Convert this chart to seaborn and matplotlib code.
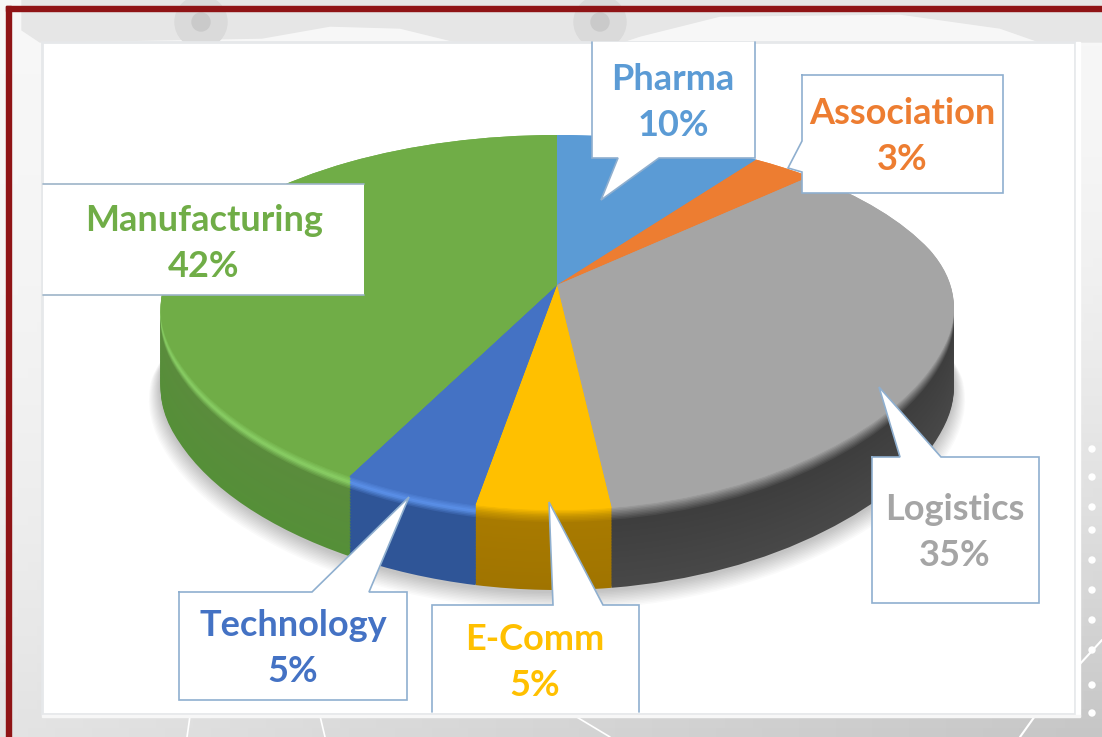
import numpy as np
import seaborn as sns
import matplotlib
matplotlib.use('Agg')
import matplotlib.pyplot as plt
from matplotlib.colors import LinearSegmentedColormap
from matplotlib.patches import Polygon, Rectangle, Circle
from matplotlib.transforms import Transform

sectors = ['Pharma', 'Association', 'Logistics', 'E-Comm', 'Technology', 'Manufacturing']
shares = [10, 3, 35, 5, 5, 42]
face_colors = ['#5B9BD5', '#ED7D31', '#A5A5A5', '#FFC000', '#4472C4', '#70AD47']
rim_colors = ['#6FB0EA', '#F08C45', '#6E6E6E', '#C79500', '#5C92EA', '#8AD066']
side_top = ['#3F6F9E', '#B05A20', '#3E3E3E', '#A87A00', '#2F5597', '#5A8C3C']
side_low = ['#3F6F9E', '#B05A20', '#484848', '#A07400', '#2F5597', '#558F38']

# label text centres in pixels
label_x = [673, 902, 955, 535, 293, 204]
label_y = [79, 113, 510, 640, 625, 220]
line_gap = 46

# callout outlines in pixels, the pointer is part of the shape
callouts = [
    [(592, 42), (755, 42), (755, 158), (659, 158), (601, 200), (618, 158), (592, 158)],
    [(802, 75), (1003, 75), (1003, 193), (802, 193), (802, 172), (788, 168), (802, 141)],
    [(872, 457), (900, 457), (879, 387), (941, 457), (1039, 457), (1039, 603), (872, 603)],
    [(432, 605), (553, 605), (549, 502), (603, 605), (639, 605), (639, 712), (432, 712)],
    [(179, 592), (312, 592), (409, 497), (369, 592), (407, 592), (407, 700), (179, 700)],
    [(43, 184), (364, 184), (364, 295), (43, 295)],
]

CX, CY = 557, 285
DEPTH = 80


class Perspective(Transform):
    """Tilts the flat unit pie into the reference's view, pixels out."""
    input_dims = 2
    output_dims = 2
    is_separable = False
    has_inverse = False

    def __init__(self, drop=0, grow=1.0):
        super().__init__()
        self.drop = drop
        self.grow = grow

    def transform_non_affine(self, values):
        values = np.asarray(values)
        y = values[:, 1]
        # the front of the disc widens less than the back narrows
        kx = 0.15 + 0.055 * np.tanh(4 * y)
        out = np.empty_like(values, dtype=float)
        out[:, 0] = CX + 395 * self.grow * values[:, 0] / (1 + kx * y)
        out[:, 1] = CY + self.drop - 180 * self.grow * y / (1 + 0.2 * y)
        return out


def draw_pie(ax, vals, colors, drop=0, grow=1.0, alpha=None):
    wedges, _ = ax.pie(vals, colors=colors, startangle=90, counterclock=False,
                       wedgeprops={'linewidth': 0, 'alpha': alpha})
    tr = Perspective(drop, grow) + ax.transData
    for w in wedges:
        w.set_transform(tr)


sns.set_theme(style='white')
fig = plt.figure(figsize=(11.02, 7.37), dpi=100, facecolor='#F2F2F2')
ax = fig.add_axes([0, 0, 1, 1])

# background behind the chart, a soft grey wash with a faint truck on top
gy, gx = np.mgrid[0:1:80j, 0:1:120j]
wash = gy ** 2 * (0.4 + 0.6 * gx)
wash_cmap = LinearSegmentedColormap.from_list('wash', ['#F7F7F7', '#C6C6C6'])
ax.imshow(wash, extent=(0, 1102, 737, 0), cmap=wash_cmap, vmin=0, vmax=1,
          aspect='auto', zorder=0)
ax.add_patch(Polygon([(22, 0), (1102, 0), (1102, 42), (1040, 42), (1000, 28), (900, 14),
                      (720, 16), (640, 36), (622, 42), (457, 42), (400, 28), (330, 26),
                      (262, 38), (40, 42), (22, 30)],
                     closed=True, color='#E6E6E6', zorder=0))
for x in [201, 600]:
    ax.add_patch(Circle((x, 22), 26, color='#DADADA', zorder=0))
    ax.add_patch(Circle((x, 22), 9, color='#CACACA', zorder=0))
for y in [449, 477, 507, 530, 560, 590, 620, 650, 685, 713]:
    ax.add_patch(Circle((1092, y), 3, color='white', zorder=0))
ax.plot([1079, 1102], [665, 640], color='white', lw=1.5, zorder=0)
ax.plot([1020, 1035], [737, 716], color='white', lw=1.5, zorder=0)
ax.plot([575, 610], [716, 737], color='white', lw=1.2, zorder=0)
ax.plot([190, 187], [716, 737], color='white', lw=1.2, zorder=0)
ax.plot([320, 325], [716, 737], color='white', lw=1.2, zorder=0)

# red frame and the white panel
ax.add_patch(Rectangle((6, 6), 1096, 4.5, color='#8F1416', zorder=1))
ax.add_patch(Rectangle((6, 6), 4.5, 731, color='#8F1416', zorder=1))
ax.add_patch(Rectangle((42, 42), 1033, 672, facecolor='white', edgecolor='#E6E8EA',
                       lw=2, zorder=1))
ax.add_patch(Rectangle((1076, 42), 4, 674, color='white', zorder=1))
ax.add_patch(Rectangle((42, 715), 1038, 2, color='#F7F7F7', zorder=1))

# soft shadow under the disc
for i in range(12):
    draw_pie(ax, [1], ['black'], drop=DEPTH + 14 - i, grow=1.0 + (11 - i) * 0.0024, alpha=0.02)

# side wall built up from the bottom, lighter rim just under the top face
n_side, n_rim = 44, 10
side_pals = [sns.blend_palette([a, b], n_colors=n_side) for a, b in zip(side_low, side_top)]
rim_pals = [sns.blend_palette([b, r, f], n_colors=n_rim)
            for b, r, f in zip(side_top, rim_colors, face_colors)]
drops = np.linspace(DEPTH, 0, n_side + n_rim)
for k, d in enumerate(drops):
    if k < n_side:
        layer = [p[k] for p in side_pals]
    else:
        layer = [p[k - n_side] for p in rim_pals]
    draw_pie(ax, shares, layer, drop=d)

# top face
draw_pie(ax, shares, face_colors)

ax.set_aspect('auto')
ax.set_xlim(0, 1102)
ax.set_ylim(737, 0)
ax.axis('off')

# callouts
for pts, name in zip(callouts, sectors):
    ax.add_patch(Polygon(pts, closed=True, facecolor='white', edgecolor='none', zorder=50))
    xs, ys = zip(*(pts + [pts[0]]))
    if name == 'Pharma':
        xs, ys = zip(*(pts[1:] + [pts[0]]))
    if name == 'E-Comm':
        # walk round so that the bottom edge is left out
        xs, ys = zip(*(pts[6:] + pts[:6]))
    if name == 'Manufacturing':
        ax.plot([43, 364], [184, 184], color='#9DB4C8', lw=1.2, zorder=51)
        ax.plot([43, 364], [295, 295], color='#9DB4C8', lw=1.2, zorder=51)
    else:
        ax.plot(xs, ys, color='#8FAFCF', lw=1.2, zorder=51, solid_joinstyle='miter')

# labels
for name, val, col, x, y in zip(sectors, shares, face_colors, label_x, label_y):
    ax.text(x, y, name, color=col, fontsize=26, fontweight='bold', family='Lato',
            ha='center', va='center', zorder=60)
    ax.text(x, y + line_gap, f'{val}%', color=col, fontsize=26, fontweight='bold', family='Lato',
            ha='center', va='center', zorder=60)

fig.savefig('out.png', dpi=100)
